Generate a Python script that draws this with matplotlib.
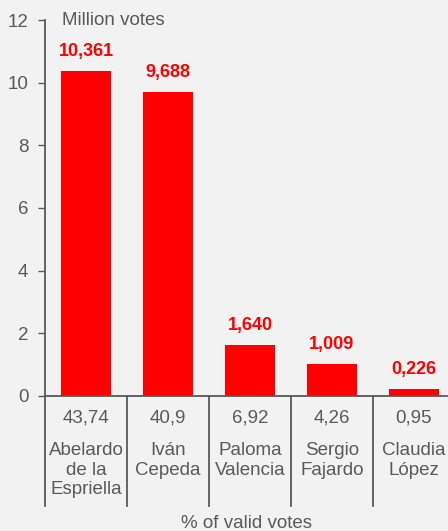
import matplotlib.pyplot as plt
import matplotlib.transforms as mtransforms

candidates = ["Abelardo\nde la\nEspriella", "Iván\nCepeda", "Paloma\nValencia", "Sergio\nFajardo", "Claudia\nLópez"]
votes = [10.361, 9.688, 1.640, 1.009, 0.226]
vote_labels = ["10,361", "9,688", "1,640", "1,009", "0,226"]
pct_labels = ["43,74", "40,9", "6,92", "4,26", "0,95"]

plt.rcParams['font.family'] = ['Liberation Sans', 'DejaVu Sans']
grey = '#595959'
bg = '#f2f2f2'
fs = 13.5

W, H = 448, 531
fig = plt.figure(figsize=(W / 100, H / 100), dpi=100, facecolor=bg)
# axes in pixel terms: left 45, right 448, zero line at 396, top at 20
ax = fig.add_axes([45 / W, 1 - 396 / H, (448 - 45) / W, (396 - 20) / H])
ax.set_facecolor(bg)

x = list(range(len(votes)))
ax.bar(x, votes, width=0.62, color='#ff0000', zorder=2)
for xi, v, lab in zip(x, votes, vote_labels):
    ax.annotate(lab, (xi, v), xytext=(0, 8), textcoords='offset points',
                ha='center', va='bottom', color='#ff0000', fontsize=13, fontweight='bold')

ax.set_ylim(0, 12)
ax.set_xlim(-0.5, (448 - 45) / 82 - 0.5)
ax.set_yticks(range(0, 13, 2))
ax.tick_params(axis='y', direction='out', length=5, width=1, colors=grey, labelsize=fs, pad=7)
ax.tick_params(axis='x', length=0, labelbottom=False)
for s in ['top', 'right']:
    ax.spines[s].set_visible(False)
ax.spines['left'].set_color(grey)
ax.spines['bottom'].set_color(grey)
ax.spines['left'].set_linewidth(1.3)
ax.spines['bottom'].set_linewidth(1.3)

ax.text(0.042, 1.0, "Million votes", transform=ax.transAxes, ha='left', va='center',
        color=grey, fontsize=fs)

# table under the axis
trans = mtransforms.blended_transform_factory(ax.transData, ax.transAxes)
axh = 396 - 20
for i in range(len(votes)):
    ax.plot([i - 0.5, i - 0.5], [0, -110 / axh], transform=trans, color=grey, lw=1.3, clip_on=False)
    ax.text(i, -22 / axh, pct_labels[i], transform=trans, ha='center', va='center',
            color=grey, fontsize=fs)
    ax.text(i, -46 / axh, candidates[i], transform=trans, ha='center', va='top',
            color=grey, fontsize=fs, linespacing=1.2)

ax.text(0.5, -127 / axh, "% of valid votes", transform=ax.transAxes, ha='center', va='center',
        color=grey, fontsize=fs)

fig.savefig('out.png', dpi=100, facecolor=bg)
